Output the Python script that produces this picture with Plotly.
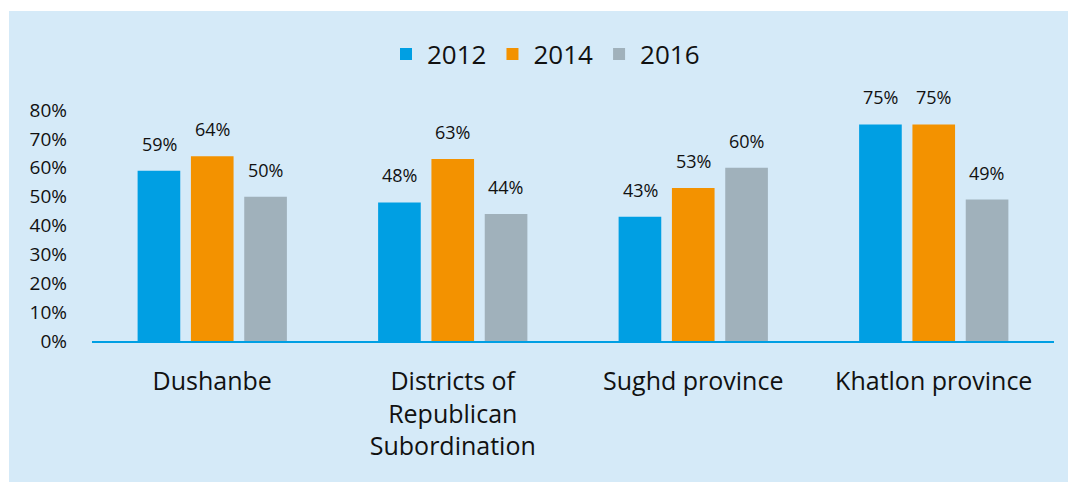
import plotly.graph_objects as go

categories = ["Dushanbe", "Districts of<br>Republican<br>Subordination", "Sughd province", "Khatlon province"]
years = ["2012", "2014", "2016"]
values_2012 = [0.59, 0.48, 0.43, 0.75]
values_2014 = [0.64, 0.63, 0.53, 0.75]
values_2016 = [0.50, 0.44, 0.60, 0.49]
colors = ["#009fe3", "#f39200", "#a0b1bb"]

W, H = 1068, 482
L, R, T, B = 92, 14, 110, 141
PANEL = "#d5eaf8"
FONT = "Open Sans"
TXT = "#111111"

fig = go.Figure()
series = [values_2012, values_2014, values_2016]
for name, vals, col in zip(years, series, colors):
    fig.add_trace(go.Bar(
        x=categories, y=vals, name=name, marker=dict(color=col, line=dict(width=0)),
    ))

pw = W - L - R
ph = H - T - B
def px_x(px):
    return (px - L) / pw
def px_y(py):
    return (H - B - py) / ph

# value labels above bars (group slot offsets in pixels)
slot = 53
annotations = []
for i, vals in enumerate(series):
    for cat, v in zip(categories, vals):
        annotations.append(dict(
            x=cat, y=v, xref="x", yref="y", text=f"{v:.0%}", showarrow=False,
            xanchor="center", yanchor="bottom", xshift=(i - 1) * slot, yshift=13,
            font=dict(size=18, family=FONT, color=TXT),
        ))

shapes = [
    dict(type="rect", xref="paper", yref="paper", x0=px_x(-5), x1=px_x(9), y0=px_y(H + 5), y1=px_y(-5),
         fillcolor="white", line=dict(width=0), layer="below"),
    dict(type="rect", xref="paper", yref="paper", x0=px_x(-5), x1=px_x(W + 5), y0=px_y(11), y1=px_y(-5),
         fillcolor="white", line=dict(width=0), layer="below"),
]

fig.update_layout(
    width=W, height=H,
    margin=dict(l=L, r=R, t=T, b=B),
    paper_bgcolor=PANEL, plot_bgcolor=PANEL,
    font=dict(family=FONT, color=TXT),
    barmode="group", bargap=0.335, bargroupgap=0.2,
    showlegend=True,
    legend=dict(orientation="h", x=px_x(545), xanchor="center", y=px_y(54), yanchor="middle",
                font=dict(size=26, family=FONT, color=TXT), bgcolor="rgba(0,0,0,0)",
                itemwidth=32, traceorder="normal"),
    shapes=shapes,
    annotations=annotations,
    xaxis=dict(showline=True, linecolor="#009fe3", linewidth=2, showgrid=False, zeroline=False,
               ticks="", tickfont=dict(size=25, family=FONT, color=TXT), ticklabelstandoff=17),
    yaxis=dict(range=[0, 0.8], dtick=0.1, tickformat=".0%", showgrid=False, zeroline=False,
               showline=False, ticks="", tickfont=dict(size=19, family=FONT, color=TXT),
               ticklabelstandoff=24),
)

fig.write_html(
    "out.html",
    config={"displayModeBar": False},
    post_script=(
        "document.documentElement.style.margin='0';document.documentElement.style.padding='0';"
        "document.documentElement.style.overflow='hidden';"
        "document.body.style.margin='0';document.body.style.padding='0';document.body.style.overflow='hidden';"
    ),
)
